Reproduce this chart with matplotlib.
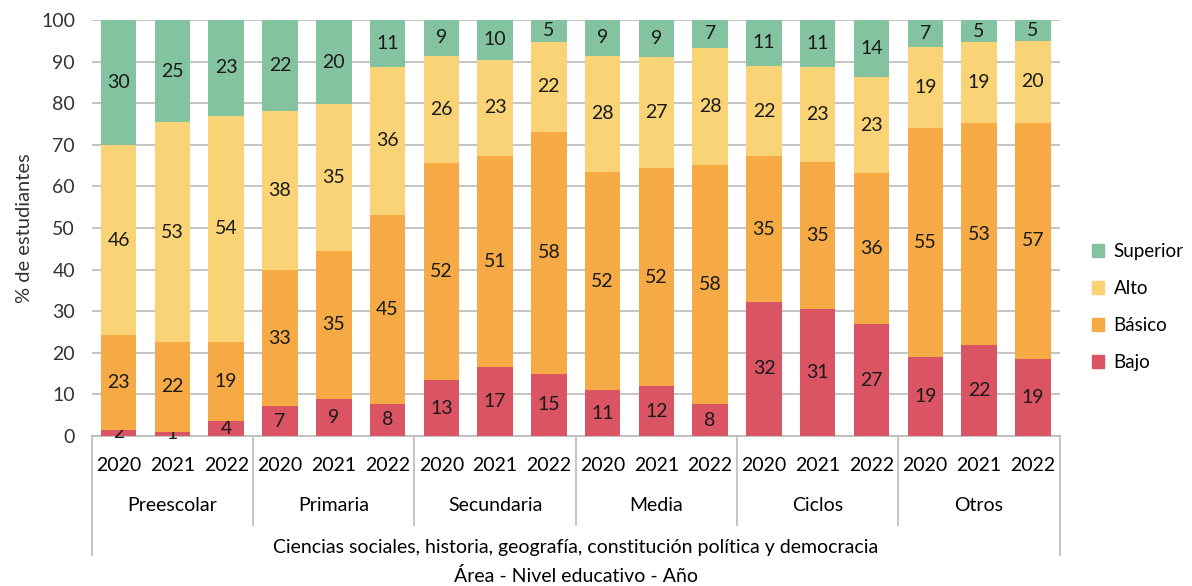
import matplotlib.pyplot as plt
from matplotlib.patches import Patch

plt.rcParams['font.family'] = ['Lato', 'DejaVu Sans']

# datos (% de estudiantes por nivel de desempeno)
grupos = ['Preescolar', 'Primaria', 'Secundaria', 'Media', 'Ciclos', 'Otros']
anios = ['2020', '2021', '2022']
bajo = [1.5, 1.0, 3.7, 7.2, 9.0, 7.7, 13.4, 16.6, 15.0, 11.0, 12.0, 7.6,
        32.2, 30.6, 26.9, 19.1, 21.8, 18.6]
basico = [22.7, 21.6, 18.9, 32.6, 35.4, 45.3, 52.3, 50.8, 58.1, 52.4, 52.3, 57.6,
          35.0, 35.2, 36.2, 55.0, 53.4, 56.6]
alto = [45.8, 52.8, 54.4, 38.3, 35.3, 35.8, 25.7, 23.0, 21.6, 28.0, 26.8, 28.1,
        21.8, 23.0, 23.1, 19.3, 19.4, 19.8]
superior = [30.0, 24.6, 23.0, 21.9, 20.3, 11.2, 8.6, 9.6, 5.3, 8.6, 8.9, 6.7,
            11.0, 11.2, 13.8, 6.6, 5.4, 5.0]

series = [('Bajo', bajo, '#DB5464'), ('Básico', basico, '#F5AA45'),
          ('Alto', alto, '#F9D375'), ('Superior', superior, '#84C39F')]

fs = 14
fig = plt.figure(figsize=(11.92, 5.86), dpi=100)
ax = fig.add_axes([0.077, 0.256, 0.812, 0.71])

x = list(range(len(bajo)))
base = [0] * len(x)
for nombre, vals, color in series:
    bars = ax.bar(x, vals, bottom=base, width=0.66, color=color, zorder=3)
    ax.bar_label(bars, labels=['%.0f' % v for v in vals], label_type='center',
                 fontsize=fs, color='#1a1a1a')
    base = [b + v for b, v in zip(base, vals)]

ax.set_ylim(0, 100)
ax.set_xlim(-0.5, len(x) - 0.5)
ax.set_yticks(range(0, 101, 10))
ax.tick_params(axis='y', length=0, labelsize=fs, pad=12, labelcolor='#333333')
ax.yaxis.grid(True, color='#BFBFBF', linewidth=1.3, zorder=0)
for s in ['top', 'right', 'left']:
    ax.spines[s].set_visible(False)
ax.spines['bottom'].set_color('#BFBFBF')
ax.spines['bottom'].set_linewidth(1.3)
ax.set_xticks([])
ax.set_ylabel('% de estudiantes', fontsize=fs + 0.5, labelpad=6, color='#333333')

# eje categorico jerarquico
tr = ax.get_xaxis_transform()
line_kw = dict(transform=tr, clip_on=False, color='#BFBFBF', linewidth=1.3)
for i, g in enumerate(grupos):
    for j, a in enumerate(anios):
        ax.text(3 * i + j, -0.072, a, transform=tr, ha='center', va='center', fontsize=fs)
    ax.text(3 * i + 1, -0.168, g, transform=tr, ha='center', va='center', fontsize=fs)
for k in range(1, len(grupos)):
    ax.plot([3 * k - 0.5, 3 * k - 0.5], [0, -0.214], **line_kw)
for xx in [-0.5, len(x) - 0.5]:
    ax.plot([xx, xx], [0, -0.286], **line_kw)
ax.text((len(x) - 1) / 2, -0.269,
        'Ciencias sociales, historia, geografía, constitución política y democracia',
        transform=tr, ha='center', va='center', fontsize=fs)
ax.text((len(x) - 1) / 2, -0.337, 'Área - Nivel educativo - Año',
        transform=tr, ha='center', va='center', fontsize=fs)

handles = [Patch(color=c, label=n) for n, _, c in series][::-1]
fig.legend(handles=handles, loc='center left', bbox_to_anchor=(0.902, 0.476),
           frameon=False, fontsize=13.5, handlelength=0.65, handleheight=0.65,
           handletextpad=0.5, labelspacing=1.06)

fig.savefig('out.png', dpi=100)
